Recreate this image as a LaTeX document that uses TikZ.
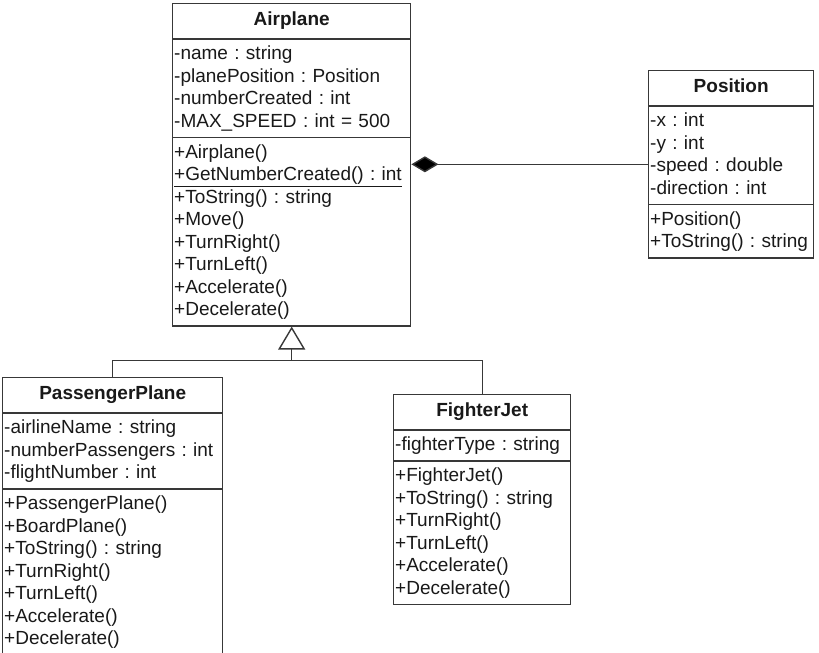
\documentclass[tikz,border=0pt]{standalone}
\usepackage{fontspec}
\setmainfont{Liberation Sans}
\usetikzlibrary{shapes.multipart, arrows.meta, positioning, calc}

% struts for one member row and for the class name
\newcommand{\ls}{\rule[-6pt]{0pt}{22.5pt}}
\newcommand{\hs}{\rule[-9pt]{0pt}{27pt}}
\newcommand{\cname}[1]{\makebox[\linewidth]{\textbf{#1}}\hs}

\begin{document}
\begin{tikzpicture}[
      x=1pt, y=-1pt,
      umlclass/.style={rectangle split, rectangle split parts=3, draw=black!78,
        line width=1.4pt, fill=white, text=black!90, align=left,
        inner xsep=1.5pt, inner ysep=3.5pt, anchor=north west,
        font=\fontsize{19}{22.5}\selectfont\frenchspacing},
      composition/.style={draw=black!78, line width=1.4pt,
        {Diamond[length=27pt, width=16pt, fill=black]}-},
      inherit/.style={draw=black!78, line width=1.4pt,
        -{Triangle[open, length=23pt, width=27pt, fill=white]}}
    ]
    \useasboundingbox[fill=white] (0,0) rectangle (819,653);

    \node[umlclass, text width=235pt] (airplane) at (172,3)
      {\cname{Airplane}
       \nodepart{two}
       -name : string\ls\\
       -planePosition : Position\ls\\
       -numberCreated : int\ls\\
       -MAX\_SPEED : int = 500\ls
       \nodepart{three}
       +Airplane()\ls\\
       \underline{+GetNumberCreated() : int}\ls\\
       +ToString() : string\ls\\
       +Move()\ls\\
       +TurnRight()\ls\\
       +TurnLeft()\ls\\
       +Accelerate()\ls\\
       +Decelerate()\ls};

    \node[umlclass, text width=162pt] (position) at (648,70)
      {\cname{Position}
       \nodepart{two}
       -x : int\ls\\
       -y : int\ls\\
       -speed : double\ls\\
       -direction : int\ls
       \nodepart{three}
       +Position()\ls\\
       +ToString() : string\ls};

    \node[umlclass, text width=217pt] (passenger) at (2,377)
      {\cname{PassengerPlane}
       \nodepart{two}
       -airlineName : string\ls\\
       -numberPassengers : int\ls\\
       -flightNumber : int\ls
       \nodepart{three}
       +PassengerPlane()\ls\\
       +BoardPlane()\ls\\
       +ToString() : string\ls\\
       +TurnRight()\ls\\
       +TurnLeft()\ls\\
       +Accelerate()\ls\\
       +Decelerate()\ls};

    \node[umlclass, text width=174pt] (fighter) at (393,394)
      {\cname{FighterJet}
       \nodepart{two}
       -fighterType : string\ls
       \nodepart{three}
       +FighterJet()\ls\\
       +ToString() : string\ls\\
       +TurnRight()\ls\\
       +TurnLeft()\ls\\
       +Accelerate()\ls\\
       +Decelerate()\ls};

    % composition and generalisation
    \draw[composition] (position.west -| airplane.east) -- (position.west);

    \coordinate (hub) at ($(airplane.south)+(0,34)$);
    \draw[inherit] (passenger.north) |- (hub) -- (airplane.south);
    \draw[draw=black!78, line width=1.4pt] (fighter.north) |- (hub);
  \end{tikzpicture}
\end{document}
